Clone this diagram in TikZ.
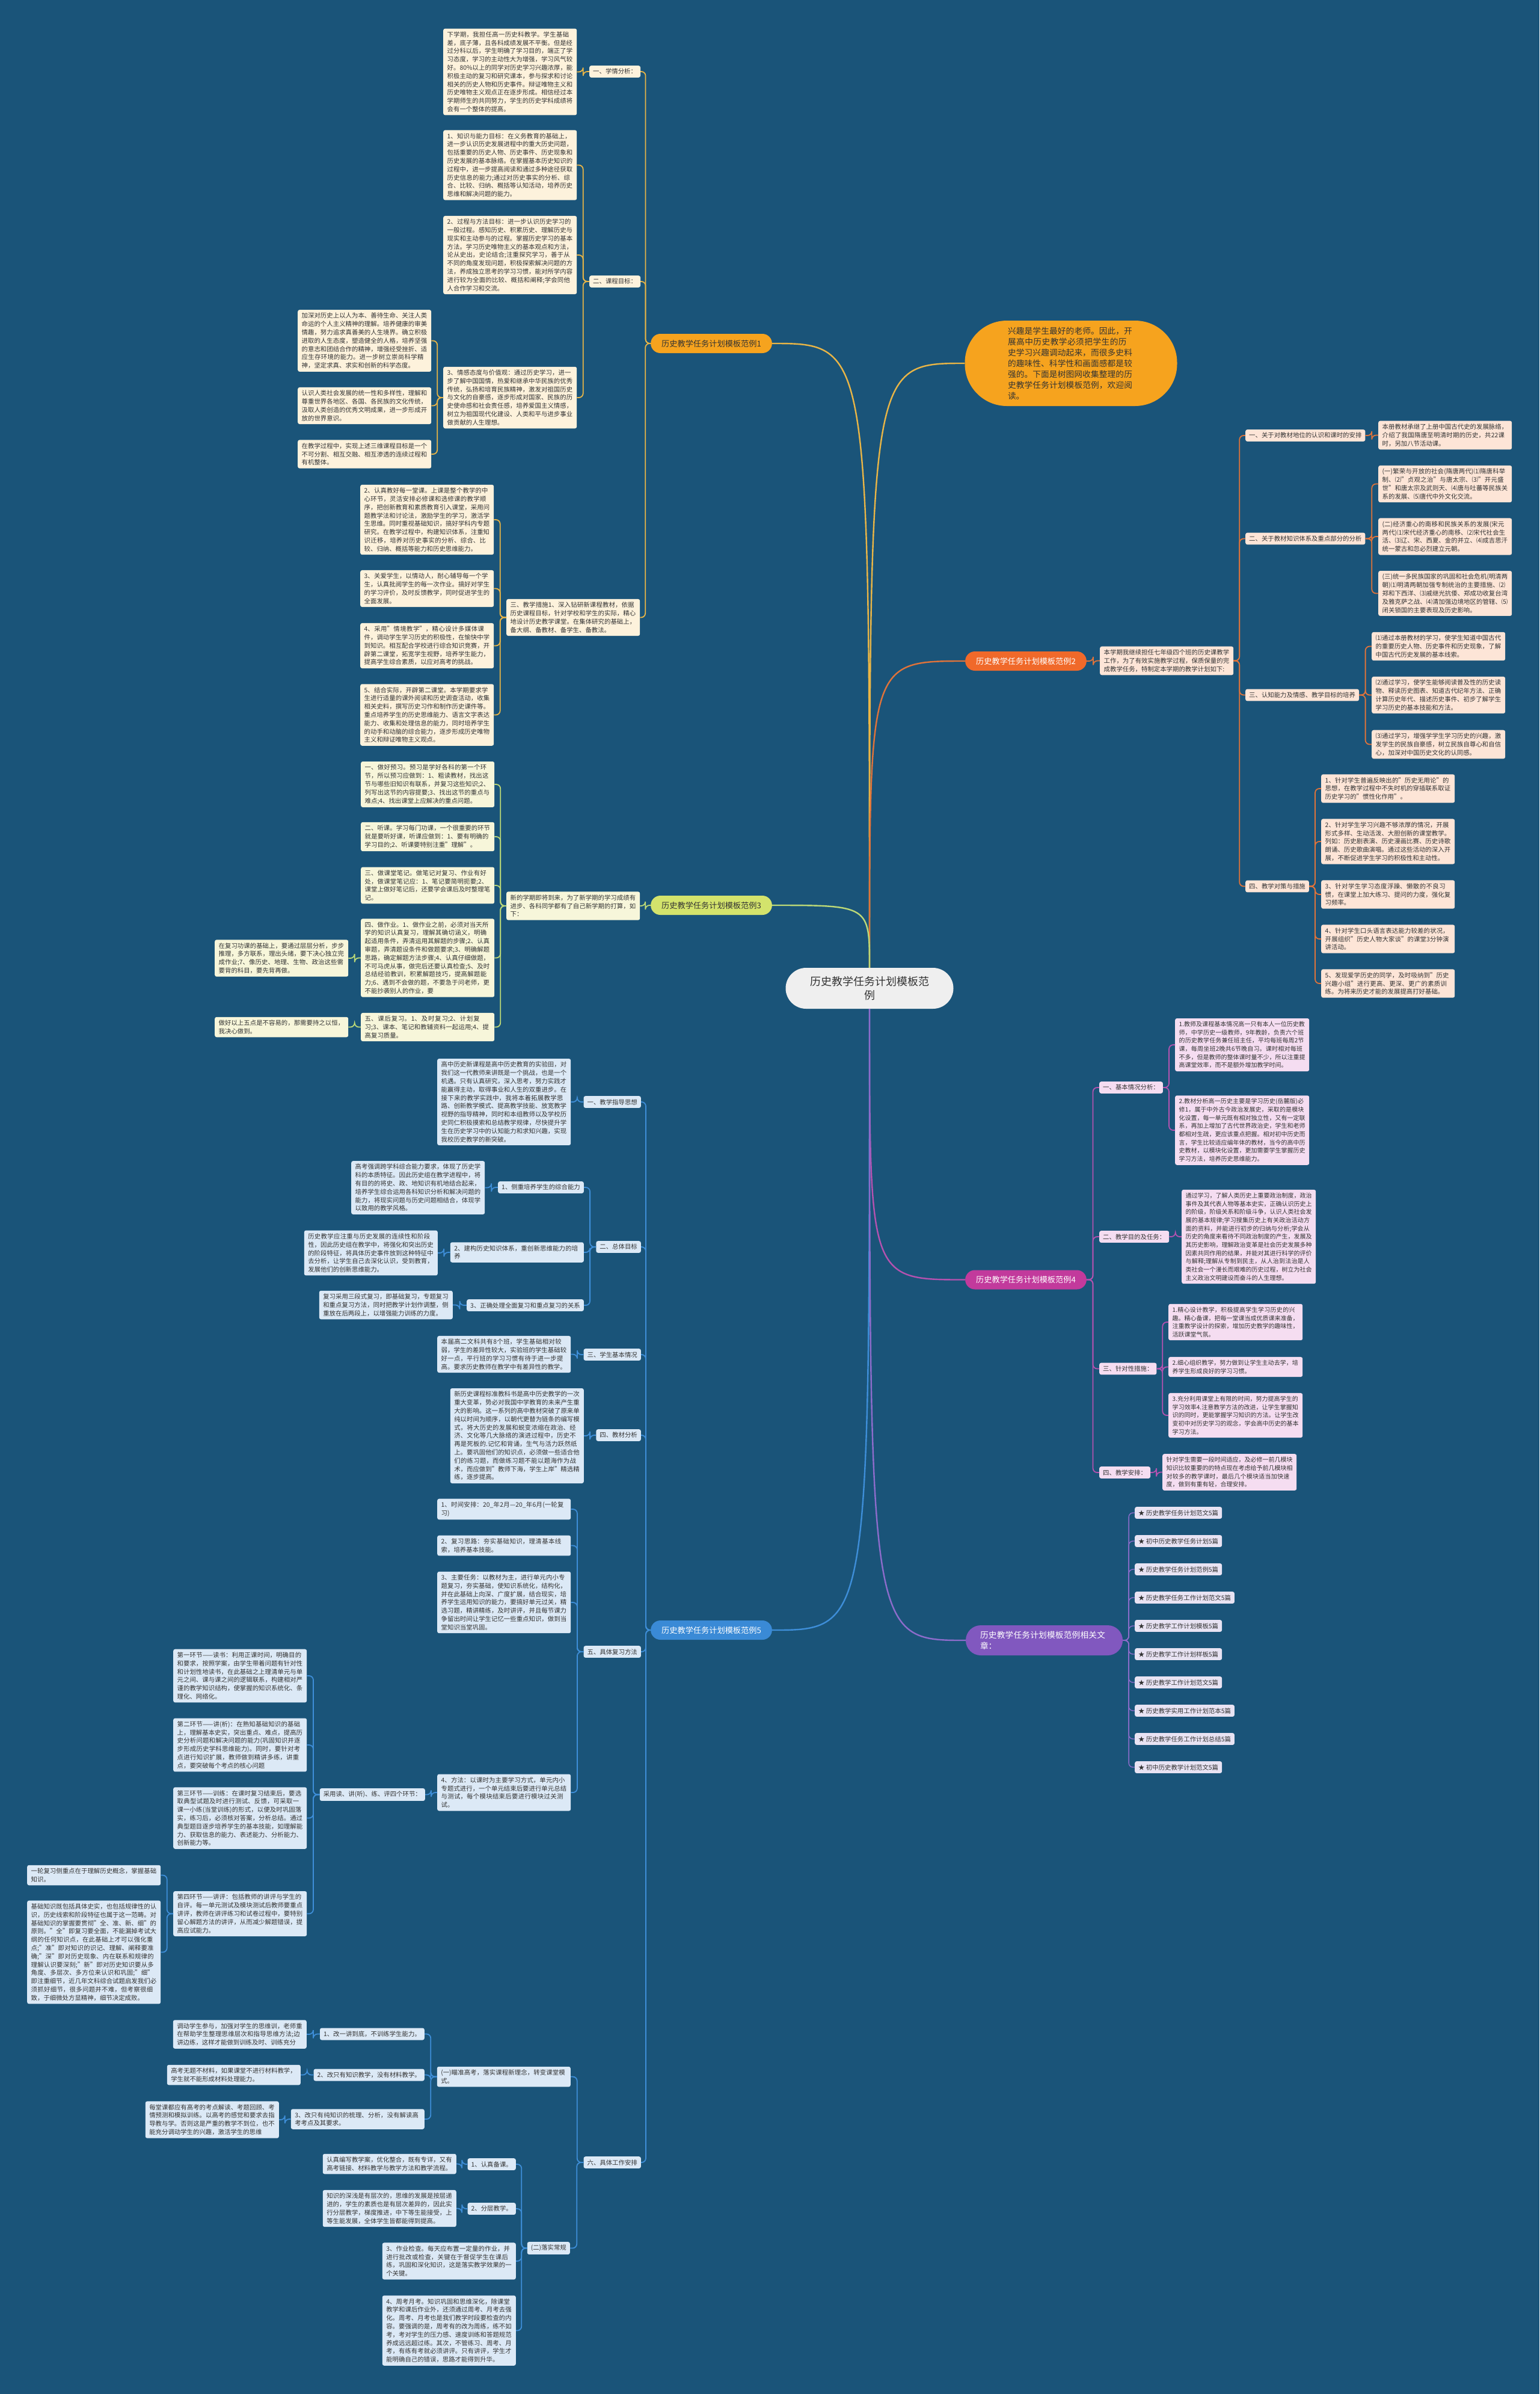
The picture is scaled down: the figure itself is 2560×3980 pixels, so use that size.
\documentclass[tikz,border=0pt]{standalone}
\usepackage{fontspec}
\setmainfont{Noto Sans CJK SC}
\usetikzlibrary{calc}
\XeTeXlinebreaklocale "zh"
\XeTeXlinebreakskip = 0pt plus 1pt

\definecolor{bg}{HTML}{1A5479}
\definecolor{txt}{HTML}{333333}
\definecolor{cen}{HTML}{EFEFEF}
\definecolor{n1}{HTML}{F6A31E}\definecolor{l1}{HTML}{E9B546}\definecolor{f1}{HTML}{FDF2DC}
\definecolor{n2}{HTML}{F0692A}\definecolor{l2}{HTML}{E0733A}\definecolor{f2}{HTML}{FDE5D7}
\definecolor{n3}{HTML}{D3E36C}\definecolor{l3}{HTML}{BCD977}\definecolor{f3}{HTML}{F7F6DA}
\definecolor{n4}{HTML}{C23A9C}\definecolor{l4}{HTML}{B552B0}\definecolor{f4}{HTML}{F5DDF1}
\definecolor{n5}{HTML}{3A8AD6}\definecolor{l5}{HTML}{3E8ED8}\definecolor{f5}{HTML}{DCE9F6}
\definecolor{n6}{HTML}{8158BF}\definecolor{l6}{HTML}{8D6CCB}\definecolor{f6}{HTML}{E8E3F3}

%親ノードから子ノードへの折れ線
\newcommand{\lnkL}[3][]{\draw[#1] (#2.west) -- ($(#2.west)!.5!(#3.east |- #2.west)$) |- (#3.east);}
\newcommand{\lnkR}[3][]{\draw[#1] (#2.east) -- ($(#2.east)!.5!(#3.west |- #2.east)$) |- (#3.west);}

\begin{document}
\begin{tikzpicture}[x=1pt, y=-1pt,
    bx/.style={rounded corners=3pt, inner xsep=6.5pt, inner ysep=5pt, text width=209pt, align=left, anchor=west, text=txt, font=\fontsize{10.4}{13.8}\selectfont},
    bxf/.style={bx, text width=210pt, font=\fontsize{10}{13.7}\selectfont},
    lb/.style={rounded corners=3pt, inner xsep=6pt, inner ysep=5pt, anchor=west, text=txt, font=\fontsize{10.4}{13.8}\selectfont},
    br/.style={rounded corners=16pt, minimum height=32pt, inner xsep=18pt, font=\fontsize{13.2}{16}\selectfont},
    cn/.style={line width=1.8pt, rounded corners=7pt},
    tr/.style={line width=2.4pt}]

    \useasboundingbox (0,0) rectangle (2560,3980);
    \fill[bg] (0,0) rectangle (2560,3980);

    %中心
    \node[fill=cen, rounded corners=34pt, minimum width=279pt, minimum height=68pt, align=center, text=txt, font=\fontsize{18}{23}\selectfont] (c) at (1446,1643) {历史教学任务计划模板范\\例};

    %導入の吹き出し
    \node[fill=n1, rounded corners=70pt, minimum width=353pt, minimum height=142pt, text width=210pt, align=left, text=txt, font=\fontsize{13.7}{18}\selectfont] (intro) at (1781,604) {兴趣是学生最好的老师。因此，开展高中历史教学必须把学生的历史学习兴趣调动起来，而很多史料的趣味性、科学性和画面感都是较强的。下面是树图网收集整理的历史教学任务计划模板范例，欢迎阅读。};

    %枝1
    \node[br, fill=n1, text=txt] (b1) at (1183,571) {历史教学任务计划模板范例1};
    \node[lb, fill=f1] (b1l1) at (980,119) {一、学情分析：};
    \node[bx, fill=f1] (b1a) at (737,119.5) {下学期，我担任高一历史科教学。学生基础差，底子薄，且各科成绩发展不平衡。但是经过分科以后，学生明确了学习目的，端正了学习态度，学习的主动性大为增强，学习风气较好。80\%以上的同学对历史学习兴趣浓厚，能积极主动的复习和研究课本，参与探求和讨论相关的历史人物和历史事件。辩证唯物主义和历史唯物主义观点正在逐步形成。相信经过本学期师生的共同努力，学生的历史学科成绩将会有一个整体的提高。};
    \node[lb, fill=f1] (b1l2) at (980,468) {二、课程目标：};
    \node[bx, fill=f1] (b1b1) at (737,274.5) {1、知识与能力目标：在义务教育的基础上，进一步认识历史发展进程中的重大历史问题，包括重要的历史人物、历史事件、历史现象和历史发展的基本脉络。在掌握基本历史知识的过程中，进一步提高阅读和通过多种途径获取历史信息的能力;通过对历史事实的分析、综合、比较、归纳、概括等认知活动，培养历史思维和解决问题的能力。};
    \node[bx, fill=f1] (b1b2) at (737,424) {2、过程与方法目标：进一步认识历史学习的一般过程。感知历史、积累历史、理解历史与现实和主动参与的过程。掌握历史学习的基本方法。学习历史唯物主义的基本观点和方法，论从史出，史论结合;注重探究学习，善于从不同的角度发现问题，积极探索解决问题的方法，养成独立思考的学习习惯，能对所学内容进行较为全面的比较、概括和阐释;学会同他人合作学习和交流。};
    \node[bx, fill=f1] (b1b3) at (737,661) {3、情感态度与价值观：通过历史学习，进一步了解中国国情，热爱和继承中华民族的优秀传统，弘扬和培育民族精神，激发对祖国历史与文化的自豪感，逐步形成对国家、民族的历史使命感和社会责任感，培养爱国主义情感，树立为祖国现代化建设、人类和平与进步事业做贡献的人生理想。};
    \node[bx, fill=f1] (b1c1) at (495,566.5) {加深对历史上以人为本、善待生命、关注人类命运的个人主义精神的理解。培养健康的审美情趣，努力追求真善美的人生境界。确立积极进取的人生态度，塑造健全的人格，培养坚强的意志和团结合作的精神，增强经受挫折、适应生存环境的能力。进一步树立崇尚科学精神，坚定求真、求实和创新的科学态度。};
    \node[bx, fill=f1] (b1c2) at (495,674.5) {认识人类社会发展的统一性和多样性，理解和尊重世界各地区、各国、各民族的文化传统，汲取人类创造的优秀文明成果，进一步形成开放的世界意识。};
    \node[bx, fill=f1] (b1c3) at (495,755) {在教学过程中，实现上述三维课程目标是一个不可分割、相互交融、相互渗透的连续过程和有机整体。};
    \node[bx, fill=f1] (b1l3) at (842,1026.5) {三、教学措施1、深入钻研新课程教材，依据历史课程目标，针对学校和学生的实际，精心地设计历史教学课堂。在集体研究的基础上，备大纲、备教材、备学生、备教法。};
    \node[bx, fill=f1] (b1d2) at (599,864) {2、认真教好每一堂课。上课是整个教学的中心环节，灵活安排必修课和选修课的教学顺序，把创新教育和素质教育引入课堂，采用问题教学法和讨论法，激励学生的学习，激活学生思维。同时重视基础知识，搞好学科内专题研究。在教学过程中，构建知识体系，注重知识迁移，培养对历史事实的分析、综合、比较、归纳、概括等能力和历史思维能力。};
    \node[bx, fill=f1] (b1d3) at (599,978.5) {3、关爱学生，以情动人，耐心辅导每一个学生，认真批阅学生的每一次作业。搞好对学生的学习评价，及时反馈教学，同时促进学生的全面发展。};
    \node[bx, fill=f1] (b1d4) at (599,1073.5) {4、采用”情境教学”，精心设计多媒体课件，调动学生学习历史的积极性，在愉快中学到知识。相互配合学校进行综合知识竞赛，开辟第二课堂，拓宽学生视野，培养学生能力，提高学生综合素质，以应对高考的挑战。};
    \node[bx, fill=f1] (b1d5) at (599,1188.5) {5、结合实际，开辟第二课堂。本学期要求学生进行适量的课外阅读和历史调查活动，收集相关史料，撰写历史习作和制作历史课件等。重点培养学生的历史思维能力、语言文字表达能力、收集和处理信息的能力，同时培养学生的动手和动脑的综合能力，逐步形成历史唯物主义和辩证唯物主义观点。};

    %枝2
    \node[br, fill=n2, text=white] (b2) at (1706,1099) {历史教学任务计划模板范例2};
    \node[bx, fill=f2] (b2a) at (1829,1098.5) {本学期我继续担任七年级四个班的历史课教学工作，为了有效实施教学过程，保质保量的完成教学任务，特制定本学期的教学计划如下:};
    \node[lb, fill=f2] (b2l1) at (2071,724) {一、关于对教材地位的认识和课时的安排};
    \node[bx, fill=f2] (b2r1) at (2292,723.5) {本册教材承继了上册中国古代史的发展脉络，介绍了我国隋唐至明清时期的历史，共22课时，另加八节活动课。};
    \node[lb, fill=f2] (b2l2) at (2071,895.5) {二、关于教材知识体系及重点部分的分析};
    \node[bx, fill=f2] (b2r2a) at (2292,804.5) {(一)繁荣与开放的社会(隋唐两代)⑴隋唐科举制、⑵”贞观之治”与唐太宗、⑶”开元盛世”和唐太宗及武则天、⑷唐与吐蕃等民族关系的发展、⑸唐代中外文化交流。};
    \node[bx, fill=f2] (b2r2b) at (2292,892) {(二)经济重心的南移和民族关系的发展(宋元两代)⑴宋代经济重心的南移、⑵宋代社会生活、⑶辽、宋、西夏、金的并立、⑷成吉思汗统一蒙古和忽必烈建立元朝。};
    \node[bx, fill=f2] (b2r2c) at (2292,986.5) {(三)统一多民族国家的巩固和社会危机(明清两朝)⑴明清两朝加强专制统治的主要措施、⑵郑和下西洋、⑶戚继光抗倭、郑成功收复台湾及雅克萨之战、⑷清加强边境地区的管辖、⑸闭关锁国的主要表现及历史影响。};
    \node[lb, fill=f2] (b2l3) at (2071,1155.5) {三、认知能力及情感、教学目标的培养};
    \node[bx, fill=f2] (b2r3a) at (2281,1074.5) {⑴通过本册教材的学习，使学生知道中国古代的重要历史人物、历史事件和历史现象，了解中国古代历史发展的基本线索。};
    \node[bx, fill=f2] (b2r3b) at (2281,1155.5) {⑵通过学习，使学生能够阅读普及性的历史读物、释读历史图表、知道古代纪年方法、正确计算历史年代、描述历史事件、初步了解学生学习历史的基本技能和方法。};
    \node[bx, fill=f2] (b2r3c) at (2281,1237.5) {⑶通过学习，增强学学生学习历史的兴趣，激发学生的民族自豪感，树立民族自尊心和自信心，加深对中国历史文化的认同感。};
    \node[lb, fill=f2] (b2l4) at (2071,1473.5) {四、教学对策与措施};
    \node[bx, fill=f2] (b2r4a) at (2197,1311) {1、针对学生普遍反映出的”历史无用论”的思想，在教学过程中不失时机的穿插联系取证历史学习的”惯性化作用”。};
    \node[bx, fill=f2] (b2r4b) at (2197,1399) {2、针对学生学习兴趣不够浓厚的情况，开展形式多样、生动活泼、大胆创新的课堂教学。列如：历史剧表演、历史漫画比赛、历史诗歌朗诵、历史歌曲演唱。通过这些活动的深入开展，不断促进学生学习的积极性和主动性。};
    \node[bx, fill=f2] (b2r4c) at (2197,1487) {3、针对学生学习态度浮躁、懒散的不良习惯，在课堂上加大练习、提问的力度，强化复习频率。};
    \node[bx, fill=f2] (b2r4d) at (2197,1561) {4、针对学生口头语言表达能力较差的状况，开展组织”历史人物大家谈”的课堂3分钟演讲活动。};
    \node[bx, fill=f2] (b2r4e) at (2197,1635) {5、发现爱学历史的同学，及时吸纳到”历史兴趣小组”进行更高、更深、更广的素质训练。为将来历史才能的发展提高打好基础。};

    %枝3
    \node[br, fill=n3, text=txt] (b3) at (1183,1505) {历史教学任务计划模板范例3};
    \node[bx, fill=f3] (b3a) at (842,1506) {新的学期即将到来，为了新学期的学习成绩有进步、各科同学都有了自己新学期的打算，如下：};
    \node[bx, fill=f3] (b3e1) at (600,1304) {一、做好预习。预习是学好各科的第一个环节，所以预习应做到：1、粗读教材，找出这节与哪些旧知识有联系，并复习这些知识;2、列写出这节的内容提要;3、找出这节的重点与难点;4、找出课堂上应解决的重点问题。};
    \node[bx, fill=f3] (b3e2) at (600,1391) {二、听课。学习每门功课，一个很重要的环节就是要听好课，听课应做到：1、要有明确的学习目的;2、听课要特别注重”理解”。};
    \node[bx, fill=f3] (b3e3) at (600,1472) {三、做课堂笔记。做笔记对复习、作业有好处，做课堂笔记应：1、笔记要简明扼要;2、课堂上做好笔记后，还要学会课后及时整理笔记。};
    \node[bx, fill=f3] (b3e4) at (600,1592.5) {四、做作业。1、做作业之前，必须对当天所学的知识认真复习，理解其确切涵义，明确起适用条件，弄清运用其解题的步骤;2、认真审题，弄清题设条件和做题要求;3、明确解题思路，确定解题方法步骤;4、认真仔细做题，不可马虎从事，做完后还要认真检查;5、及时总结经验教训，积累解题技巧，提高解题能力;6、遇到不会做的题，不要急于问老师，更不能抄袭别人的作业，要};
    \node[bx, fill=f3] (b3e4a) at (357,1593) {在复习功课的基础上，要通过层层分析，步步推理，多方联系，理出头绪，要下决心独立完成作业;7、像历史、地理、生物、政治这些需要背的科目，要先背再做。};
    \node[bx, fill=f3] (b3e5) at (600,1707.5) {五、课后复习。1、及时复习;2、计划复习;3、课本、笔记和教辅资料一起运用;4、提高复习质量。};
    \node[bx, fill=f3] (b3e5a) at (357,1707.5) {做好以上五点是不容易的，那需要持之以恒，我决心做到。};

    %枝4
    \node[br, fill=n4, text=white] (b4) at (1706,2127.5) {历史教学任务计划模板范例4};
    \node[lb, fill=f4] (b4l1) at (1828,1808) {一、基本情况分析：};
    \node[bxf, fill=f4] (b4a1) at (1954,1737) {1.教师及课程基本情况高一只有本人一位历史教师，中学历史一级教师，9年教龄，负责六个班的历史教学任务兼任班主任，平均每班每周2节课，每周坐班2晚共6节晚自习。课时相对每班不多，但是教师的整体课时量不少，所以注重提高课堂效率，而不是额外增加教学时间。};
    \node[bxf, fill=f4] (b4a2) at (1954,1879) {2.教材分析高一历史主要是学习历史(岳麓版)必修1，属于中外古今政治发展史，采取的是模块化设置，每一单元既有相对独立性，又有一定联系，再加上增加了古代世界政治史，学生和老师都相对生疏，更应该重点把握。相对初中历史而言，学生比较适应编年体的教材，当今的高中历史教材，以模块化设置，更加需要学生掌握历史学习方法，培养历史思维能力。};
    \node[lb, fill=f4] (b4l2) at (1828,2056) {二、教学目的及任务：};
    \node[bxf, fill=f4] (b4b) at (1965,2056) {通过学习，了解人类历史上重要政治制度，政治事件及其代表人物等基本史实，正确认识历史上的阶级，阶级关系和阶级斗争，认识人类社会发展的基本规律;学习搜集历史上有关政治活动方面的资料，并能进行初步的归纳与分析;学会从历史的角度来看待不同政治制度的产生，发展及其历史影响，理解政治变革是社会历史发展多种因素共同作用的结果，并能对其进行科学的评价与解释;理解从专制到民主，从人治到法治是人类社会一个漫长而艰难的历史过程，树立为社会主义政治文明建设而奋斗的人生理想。};
    \node[lb, fill=f4] (b4l3) at (1828,2275.5) {三、针对性措施：};
    \node[bxf, fill=f4] (b4c1) at (1943,2198) {1.精心设计教学，积极提高学生学习历史的兴趣。精心备课，把每一堂课当成优质课来准备，注重教学设计的探索，增加历史教学的趣味性，活跃课堂气氛。};
    \node[bxf, fill=f4] (b4c2) at (1943,2272.5) {2.细心组织教学，努力做到让学生主动去学，培养学生形成良好的学习习惯。};
    \node[bxf, fill=f4] (b4c3) at (1943,2353) {3.充分利用课堂上有限的时间，努力提高学生的学习效率4.注意教学方法的改进，让学生掌握知识的同时，更能掌握学习知识的方法。让学生改变初中对历史学习的观念，学会高中历史的基本学习方法。};
    \node[lb, fill=f4] (b4l4) at (1828,2448) {四、教学安排：};
    \node[bxf, fill=f4] (b4d) at (1933,2447.5) {针对学生需要一段时间适应，及必修一前几模块知识比较重要的的特点现在考虑给予前几模块相对较多的教学课时，最后几个模块适当加快速度，做到有重有轻，合理安排。};

    %枝5
    \node[br, fill=n5, text=white] (b5) at (1183,2710) {历史教学任务计划模板范例5};
    \node[lb, fill=f5, anchor=east] (b5l1) at (1066,1832) {一、教学指导思想};
    \node[bx, fill=f5] (b5a) at (727,1832) {高中历史新课程是高中历史教育的实验田，对我们这一代教师来讲既是一个挑战，也是一个机遇。只有认真研究，深入思考，努力实践才能赢得主动，取得事业和人生的双重进步。在接下来的教学实践中，我将本着拓展教学思路、创新教学模式、提高教学技能、放宽教学视野的指导精神，同时和本组教师以及学校历史同仁积极摸索和总结教学规律，尽快提升学生在历史学习中的认知能力和求知兴趣，实现我校历史教学的新突破。};
    \node[lb, fill=f5, anchor=east] (b5l2) at (1066,2073) {二、总体目标};
    \node[lb, fill=f5, anchor=east] (b5b1) at (971,1974) {1、侧重培养学生的综合能力};
    \node[bx, fill=f5] (b5b1a) at (584,1974.5) {高考强调跨学科综合能力要求，体现了历史学科的本质特征。因此历史组在教学进程中，将有目的的将史、政、地知识有机地结合起来，培养学生综合运用各科知识分析和解决问题的能力，将现实问题与历史问题相结合，体现学以致用的教学风格。};
    \node[bx, fill=f5, anchor=east] (b5b2) at (971,2082) {2、建构历史知识体系，重创新思维能力的培养};
    \node[bx, fill=f5, anchor=east] (b5b2a) at (728,2083) {历史教学应注重与历史发展的连续性和阶段性，因此历史组在教学中，将强化和突出历史的阶段特征，将具体历史事件放到这种特征中去分析，让学生自己去深化认识，受到教育，发展他们的创新思维能力。};
    \node[lb, fill=f5, anchor=east] (b5b3) at (971,2170) {3、正确处理全面复习和重点复习的关系};
    \node[bx, fill=f5, anchor=east] (b5b3a) at (753,2169.5) {复习采用三段式复习，即基础复习，专题复习和重点复习方法，同时把教学计划作调整，侧重放在后两段上，以增强能力训练的力度。};
    \node[lb, fill=f5, anchor=east] (b5l3) at (1066,2252) {三、学生基本情况};
    \node[bx, fill=f5] (b5c) at (727,2251.5) {本届高二文科共有8个班，学生基础相对较弱，学生的差异性较大，实验班的学生基础较好一点，平行班的学习习惯有待于进一步提高。要求历史教师在教学中有差异性的教学。};
    \node[lb, fill=f5, anchor=east] (b5l4) at (1066,2386) {四、教材分析};
    \node[bx, fill=f5, anchor=east] (b5d) at (971,2387) {新历史课程标准教科书是高中历史教学的一次重大变革，势必对我国中学教育的未来产生重大的影响。这一系列的高中教材突破了原来单纯以时间为顺序，以朝代更替为链条的编写模式，将大历史的发展和蜕变浓缩在政治、经济、文化等几大脉络的演进过程中，历史不再是死板的.记忆和背诵，生气与活力跃然纸上。要巩固他们的知识点，必须做一些适合他们的练习题，而做练习题不能以题海作为战术，而应做到”教师下海，学生上岸”精选精练，逐步提高。};
    \node[lb, fill=f5, anchor=east] (b5l5) at (1066,2746) {五、具体复习方法};
    \node[bx, fill=f5] (b5e1) at (727,2509) {1、时间安排：20\_年2月—20\_年6月(一轮复习)};
    \node[bx, fill=f5] (b5e2) at (727,2569.5) {2、复习思路：夯实基础知识，理清基本线索，培养基本技能。};
    \node[bx, fill=f5] (b5e3) at (727,2664) {3、主要任务：以教材为主，进行单元内小专题复习，夯实基础，使知识系统化，结构化，并在此基础上向深、广度扩展，结合现实，培养学生运用知识的能力，要搞好单元过关，精选习题，精讲精练，及时讲评，并且每节课力争留出时间让学生记忆一些重点知识，做到当堂知识当堂巩固。};
    \node[bx, fill=f5] (b5e4) at (727,2980) {4、方法：以课时为主要学习方式，单元内小专题式进行，一个单元结束后要进行单元总结与测试，每个模块结束后要进行模块过关测试。};
    \node[lb, fill=f5, anchor=east] (b5f) at (707,2983.5) {采用读、讲(听)、练、评四个环节：};
    \node[bx, fill=f5] (b5g1) at (288,2786) {第一环节——读书：利用正课时间，明确目的和要求，按照学案，由学生带着问题有针对性和计划性地读书，在此基础之上理清单元与单元之间、课与课之间的逻辑联系，构建相对严谨的教学知识结构，使掌握的知识系统化、条理化、网络化。};
    \node[bx, fill=f5] (b5g2) at (288,2901) {第二环节——讲(析)：在熟知基础知识的基础上，理解基本史实，突出重点、难点，提高历史分析问题和解决问题的能力(巩固知识并逐步形成历史学科思维能力)。同时，要针对考点进行知识扩展，教师做到精讲多练，讲重点，要突破每个考点的核心问题};
    \node[bx, fill=f5] (b5g3) at (288,3022.5) {第三环节——训练：在课时复习结束后，要选取典型试题及时进行测试、反馈，可采取一课一小练(当堂训练)的形式，以便及时巩固落实，练习后，必须核对答案，分析总结。通过典型题目逐步培养学生的基本技能，如理解能力、获取信息的能力、表述能力、分析能力、创新能力等。};
    \node[bx, fill=f5] (b5g4) at (288,3181.5) {第四环节——讲评：包括教师的讲评与学生的自评。每一单元测试及模块测试后教师要重点讲评，教师在讲评练习和试卷过程中，要特别留心解题方法的讲评，从而减少解题错误，提高应试能力。};
    \node[bx, fill=f5] (b5g4a) at (45,3117.5) {一轮复习侧重点在于理解历史概念，掌握基础知识。};
    \node[bx, fill=f5] (b5g4b) at (45,3245.5) {基础知识既包括具体史实，也包括规律性的认识，历史线索和阶段特征也属于这一范畴。对基础知识的掌握要贯彻”全、准、新、细”的原则。”全”即复习要全面，不能漏掉考试大纲的任何知识点，在此基础上才可以强化重点;”准”即对知识的识记、理解、阐释要准确;”深”即对历史现象、内在联系和规律的理解认识要深刻;”新”即对历史知识要从多角度、多层次、多方位来认识和巩固;”细”即注重细节，近几年文科综合试题启发我们必须抓好细节，很多问题并不难，但考察很细致，于细微处方显精神，细节决定成败。};
    \node[lb, fill=f5, anchor=east] (b5l6) at (1066,3595) {六、具体工作安排};
    \node[bx, fill=f5, anchor=east] (b5h1) at (949,3452.5) {(一)瞄准高考，落实课程新理念，转变课堂模式。};
    \node[lb, fill=f5, anchor=east] (b5i1) at (706,3381.5) {1、改一讲到底，不训练学生能力。};
    \node[bx, fill=f5, anchor=east] (b5i1a) at (510,3382) {调动学生参与，加强对学生的思维训，老师重在帮助学生整理思维层次和指导思维方法;边讲边练，这样才能做到训练及时、训练充分};
    \node[lb, fill=f5, anchor=east] (b5i2) at (706,3449.5) {2、改只有知识教学，没有材料教学。};
    \node[bx, fill=f5, anchor=east] (b5i2a) at (500,3449.5) {高考无题不材料，如果课堂不进行材料教学，学生就不能形成材料处理能力。};
    \node[bx, fill=f5, anchor=east] (b5i3) at (706,3523) {3、改只有纯知识的梳理、分析，没有解读高考考点及其要求。};
    \node[bx, fill=f5, anchor=east] (b5i3a) at (464,3524) {每堂课都应有高考的考点解读、考题回顾、考情预测和模拟训练。以高考的感觉和要求去指导教与学。否则这是严重的教学不到位，也不能充分调动学生的兴趣，激活学生的思维};
    \node[lb, fill=f5, anchor=east] (b5h2) at (948,3737.5) {(二)落实常规};
    \node[lb, fill=f5, anchor=east] (b5j1) at (858,3598) {1、认真备课。};
    \node[bx, fill=f5, anchor=east] (b5j1a) at (759,3597.5) {认真编写教学案，优化整合，既有专详，又有高考链接、材料教学与教学方法和教学流程。};
    \node[lb, fill=f5, anchor=east] (b5j2) at (858,3672) {2、分层教学。};
    \node[bx, fill=f5, anchor=east] (b5j2a) at (759,3671.5) {知识的深浅是有层次的，思维的发展是按层递进的，学生的素质也是有层次差异的，因此实行分层教学，梯度推进，中下等生能接受，上等生能发展，全体学生皆都能得到提高。};
    \node[bx, fill=f5, anchor=east] (b5j3) at (858,3759) {3、作业检查。每天应布置一定量的作业，并进行批改或检查，关键在于督促学生在课后练，巩固和深化知识，这是落实教学效果的一个关键。};
    \node[bx, fill=f5, anchor=east] (b5j4) at (858,3874.5) {4、周考月考。知识巩固和思维深化，除课堂教学和课后作业外，还须通过周考、月考去强化。周考、月考也是我们教学时段要检查的内容。要强调的是，周考有的改为周练，练不如考，考对学生的压力感、速度训练和答题规范养成远远超过练。其次，不管练习、周考、月考，有练有考就必须讲评。只有讲评，学生才能明确自己的错误，思路才能得到升华。};

    %枝6
    \node[fill=n6, rounded corners=25pt, minimum height=50pt, inner xsep=24pt, text width=213pt, align=left, text=white, font=\fontsize{13.7}{18}\selectfont] (b6) at (1736.5,2727) {历史教学任务计划模板范例相关文章：};
    \foreach \t [count=\i] in {历史教学任务计划范文5篇, 初中历史教学任务计划5篇, 历史教学任务计划范例5篇, 历史教学任务工作计划范文5篇, 历史教学工作计划模板5篇, 历史教学工作计划样板5篇, 历史教学工作计划范文5篇, 历史教学实用工作计划范本5篇, 历史教学任务工作计划总结5篇, 初中历史教学计划范文5篇}
        \node[lb, fill=f6] (b6i\i) at (1887,2468+47*\i) {★ \t};

    %中心からの枝線
    \draw[tr, l1] (c.north) .. controls (c.north |- b1.east) .. (b1.east);
    \draw[tr, l1] (c.north) .. controls (c.north |- intro.west) .. (intro.west);
    \draw[tr, l2] (c.north) .. controls (c.north |- b2.west) .. (b2.west);
    \draw[tr, l3] (c.north) .. controls (c.north |- b3.east) .. (b3.east);
    \draw[tr, l4] (c.south) .. controls (c.south |- b4.west) .. (b4.west);
    \draw[tr, l5] (c.south) .. controls (c.south |- b5.east) .. (b5.east);
    \draw[tr, l6] (c.south) .. controls (c.south |- b6.west) .. (b6.west);

    %枝1の線
    \foreach \k in {b1l1, b1l2, b1l3} \lnkL[cn, l1]{b1}{\k};
    \lnkL[cn, l1]{b1l1}{b1a}
    \foreach \k in {b1b1, b1b2, b1b3} \lnkL[cn, l1]{b1l2}{\k};
    \foreach \k in {b1c1, b1c2, b1c3} \lnkL[cn, l1]{b1b3}{\k};
    \foreach \k in {b1d2, b1d3, b1d4, b1d5} \lnkL[cn, l1]{b1l3}{\k};

    %枝2の線
    \lnkR[cn, l2]{b2}{b2a}
    \foreach \k in {b2l1, b2l2, b2l3, b2l4} \lnkR[cn, l2]{b2a}{\k};
    \lnkR[cn, l2]{b2l1}{b2r1}
    \foreach \k in {b2r2a, b2r2b, b2r2c} \lnkR[cn, l2]{b2l2}{\k};
    \foreach \k in {b2r3a, b2r3b, b2r3c} \lnkR[cn, l2]{b2l3}{\k};
    \foreach \k in {b2r4a, b2r4b, b2r4c, b2r4d, b2r4e} \lnkR[cn, l2]{b2l4}{\k};

    %枝3の線
    \lnkL[cn, l3]{b3}{b3a}
    \foreach \k in {b3e1, b3e2, b3e3, b3e4, b3e5} \lnkL[cn, l3]{b3a}{\k};
    \lnkL[cn, l3]{b3e4}{b3e4a}
    \lnkL[cn, l3]{b3e5}{b3e5a}

    %枝4の線
    \foreach \k in {b4l1, b4l2, b4l3, b4l4} \lnkR[cn, l4]{b4}{\k};
    \foreach \k in {b4a1, b4a2} \lnkR[cn, l4]{b4l1}{\k};
    \lnkR[cn, l4]{b4l2}{b4b}
    \foreach \k in {b4c1, b4c2, b4c3} \lnkR[cn, l4]{b4l3}{\k};
    \lnkR[cn, l4]{b4l4}{b4d}

    %枝5の線
    \foreach \k in {b5l1, b5l2, b5l3, b5l4, b5l5, b5l6} \lnkL[cn, l5]{b5}{\k};
    \lnkL[cn, l5]{b5l1}{b5a}
    \foreach \k in {b5b1, b5b2, b5b3} \lnkL[cn, l5]{b5l2}{\k};
    \lnkL[cn, l5]{b5b1}{b5b1a}
    \lnkL[cn, l5]{b5b2}{b5b2a}
    \lnkL[cn, l5]{b5b3}{b5b3a}
    \lnkL[cn, l5]{b5l3}{b5c}
    \lnkL[cn, l5]{b5l4}{b5d}
    \foreach \k in {b5e1, b5e2, b5e3, b5e4} \lnkL[cn, l5]{b5l5}{\k};
    \lnkL[cn, l5]{b5e4}{b5f}
    \foreach \k in {b5g1, b5g2, b5g3, b5g4} \lnkL[cn, l5]{b5f}{\k};
    \foreach \k in {b5g4a, b5g4b} \lnkL[cn, l5]{b5g4}{\k};
    \foreach \k in {b5h1, b5h2} \lnkL[cn, l5]{b5l6}{\k};
    \foreach \k in {b5i1, b5i2, b5i3} \lnkL[cn, l5]{b5h1}{\k};
    \lnkL[cn, l5]{b5i1}{b5i1a}
    \lnkL[cn, l5]{b5i2}{b5i2a}
    \lnkL[cn, l5]{b5i3}{b5i3a}
    \foreach \k in {b5j1, b5j2, b5j3, b5j4} \lnkL[cn, l5]{b5h2}{\k};
    \lnkL[cn, l5]{b5j1}{b5j1a}
    \lnkL[cn, l5]{b5j2}{b5j2a}

    %枝6の線
    \foreach \i in {1,...,10} \lnkR[cn, l6, line width=1.4pt]{b6}{b6i\i};
\end{tikzpicture}
\end{document}
